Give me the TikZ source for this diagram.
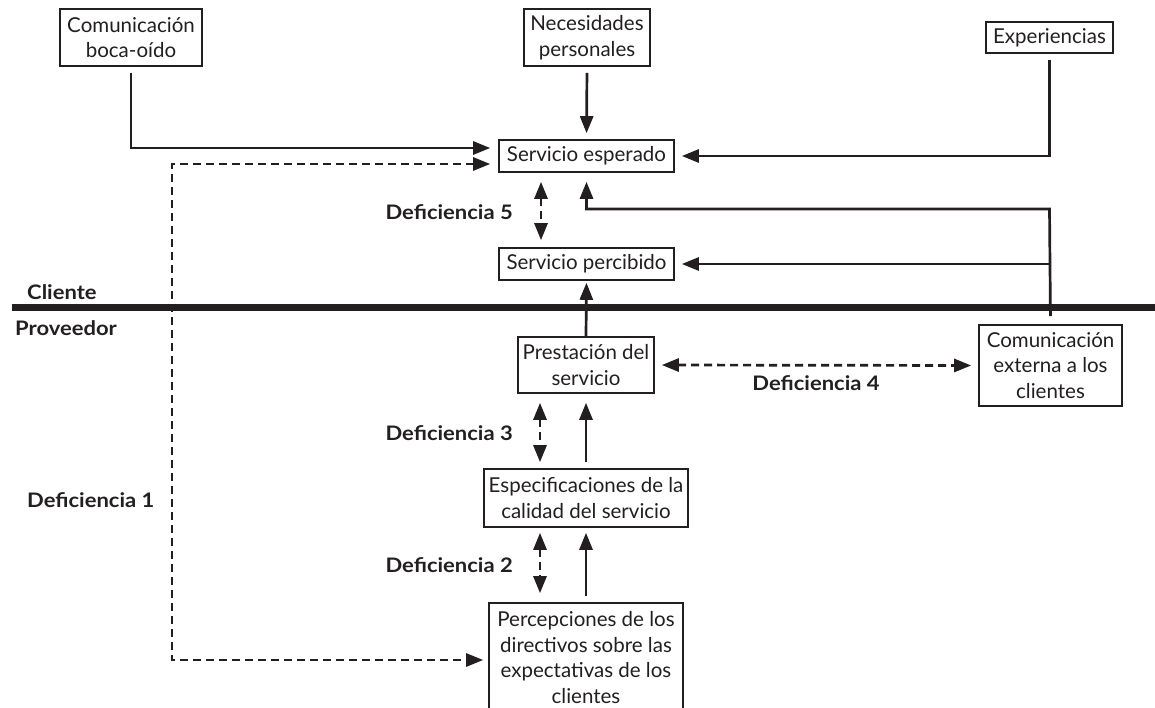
\documentclass[tikz,border=0pt]{standalone}
\usepackage{fontspec}
\setmainfont{Lato}
\usetikzlibrary{arrows.meta}
\definecolor{ink}{HTML}{231F20}
\newcommand{\widelbl}[1]{\scalebox{1.1}[1]{#1}}
\begin{document}
\begin{tikzpicture}[x=1pt,y=-1pt,
  box/.style={draw=ink, line width=1.6pt, inner sep=0pt, align=center, text=ink,
    font=\fontsize{20.5}{25.5}\selectfont},
  lbl/.style={font=\fontsize{20}{24}\selectfont\bfseries, inner sep=0pt, text=ink},
  conn/.style={draw=ink, line width=2.7pt},
  arr/.style={conn, -{Triangle[length=17pt,width=13pt]}},
  dbl/.style={conn, {Triangle[length=17pt,width=13pt]}-{Triangle[length=17pt,width=13pt]}, dash pattern=on 8pt off 5pt},
]
\useasboundingbox (0,0) rectangle (1155,708);
\fill[white] (0,0) rectangle (1155,708);

% boxes
\node[box, minimum width=142pt, minimum height=57pt] (com) at (131,37.5) {Comunicación\\boca-oído};
\node[box, minimum width=126pt, minimum height=57pt] (nec) at (587,37.5) {Necesidades\\personales};
\node[box, minimum width=127pt, minimum height=31pt] (exp) at (1049.5,37.5) {Experiencias};
\node[box, minimum width=175pt, minimum height=32pt] (esp) at (586.5,156) {Servicio esperado};
\node[box, minimum width=175pt, minimum height=32pt] (per) at (586.5,264) {Servicio percibido};
\node[box, minimum width=136pt, minimum height=56pt] (pre) at (586,365) {Prestación del\\servicio};
\node[box, minimum width=143pt, minimum height=81pt] (ext) at (1050.5,365.5) {Comunicación\\externa a los\\clientes};
\node[box, minimum width=204pt, minimum height=58pt] (spec) at (586,498) {Especificaciones de la\\calidad del servicio};
\node[box, minimum width=194pt, minimum height=109pt] (perc) at (586,657.5) {Percepciones de los\\directivos sobre las\\expectativas de los\\clientes};

% labels
\node[lbl, anchor=west] (cli) at (27,292) {\widelbl{Cliente}};
\node[lbl, anchor=west] (prov) at (15,328) {\widelbl{Proveedor}};
\node[lbl, anchor=east] (d5) at (513,212) {\widelbl{Deficiencia 5}};
\node[lbl, anchor=east] (d3) at (513,433) {\widelbl{Deficiencia 3}};
\node[lbl, anchor=east] (d2) at (513,565) {\widelbl{Deficiencia 2}};
\node[lbl, anchor=west] (d1) at (27,500) {\widelbl{Deficiencia 1}};
\node[lbl] (d4) at (816,383) {\widelbl{Deficiencia 4}};

% separator
\draw[ink, line width=7pt] (12,307) -- (1155,307);

% coordinates
\coordinate (j1) at (1049.5,209);
\coordinate (dl1) at (172,164);
\coordinate (dl2) at (172,660);

% connectors
\draw[arr, shorten <=6pt, shorten >=8pt] (com.south) |- ([yshift=8pt]esp.west);
\draw[arr, shorten <=6pt, shorten >=6pt] (nec.south) -- (esp.north);
\draw[arr, shorten <=6pt, shorten >=7pt] (exp.south) |- (esp.east);
\draw[arr, shorten <=8pt, shorten >=9pt] (ext.north) -- (j1) -| (esp.south);
\draw[arr, shorten >=7pt] (j1 |- per.east) -- (per.east);
\draw[arr, shorten >=2pt] (pre.north) -- (per.south);
\draw[dbl, shorten <=9pt, shorten >=7pt] ([xshift=-45.5pt]esp.south) -- ([xshift=-45.5pt]per.north);
\draw[dbl, shorten <=7pt, shorten >=7pt] (pre.east) -- (ext.west);
\draw[dbl, shorten <=9pt, shorten >=6pt] ([xshift=-46pt]pre.south) -- ([xshift=-46pt]spec.north);
\draw[arr, shorten <=6pt, shorten >=9pt] (spec.north) -- (pre.south);
\draw[dbl, shorten <=5pt, shorten >=9pt] ([xshift=-46pt]spec.south) -- ([xshift=-46pt]perc.north);
\draw[arr, shorten <=6pt, shorten >=5pt] (perc.north) -- (spec.south);
\draw[dbl, shorten <=8pt, shorten >=5pt] ([yshift=-8pt]esp.west) -- (dl1) -- (dl2) -- (perc.west |- dl2);
\end{tikzpicture}
\end{document}
